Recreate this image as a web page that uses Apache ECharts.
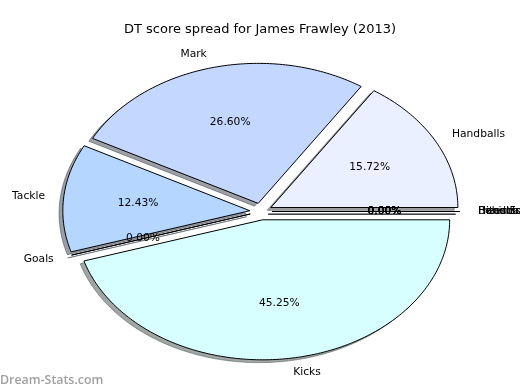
<!DOCTYPE html>
<html>
<head>
<meta charset="utf-8">
<script src="https://cdn.jsdelivr.net/npm/echarts@6/dist/echarts.min.js"></script>
<style>html,body{margin:0;padding:0;background:#fff;}#c{width:520px;height:390px;}</style>
</head>
<body>
<div id="c"></div>
<script>
const titleText = 'DT score spread for James Frawley (2013)';
const categories = ['Handballs', 'Mark', 'Tackle', 'Goals', 'Kicks', 'Behinds', 'Hitouts', 'Frees For', 'Handballs Rec'];
const shares = [15.72, 26.60, 12.43, 0, 45.25, 0, 0, 0, 0];
const colors = ['#eaf0ff', '#c4d8ff', '#b4d6ff', '#c8e0ff', '#d8ffff', '#e0e8ff', '#d0e0ff', '#c0d8ff', '#e8f0ff'];

const FONT = '"DejaVu Sans", sans-serif';
const CX = 261, CY = 211.5, RX = 187, RY = 140;
const EXPLODE = 0.06, SH_DX = -0.02, SH_DY = -0.02;

const total = shares.reduce((a, b) => a + b, 0);
const starts = [];
let acc = 0;
shares.forEach(v => { starts.push(acc); acc += v; });

function pt(cx, cy, deg, f) {
  const a = deg * Math.PI / 180;
  return [cx + f * RX * Math.cos(a), cy - f * RY * Math.sin(a)];
}
function shadeColor(hex) {
  const r = parseInt(hex.slice(1, 3), 16), g = parseInt(hex.slice(3, 5), 16), b = parseInt(hex.slice(5, 7), 16);
  return 'rgba(' + Math.round(r * 0.3) + ',' + Math.round(g * 0.3) + ',' + Math.round(b * 0.3) + ',0.5)';
}
function wedgePoints(cx, cy, a0, a1) {
  const pts = [[cx, cy]];
  const n = Math.max(1, Math.ceil((a1 - a0) / 1));
  for (let k = 0; k <= n; k++) pts.push(pt(cx, cy, a0 + (a1 - a0) * k / n, 1));
  return pts;
}

const chart = echarts.init(document.getElementById('c'), null, { renderer: 'canvas' });
chart.setOption({
  animation: false,
  backgroundColor: '#fff',
  title: {
    text: titleText, left: 'center', top: 18,
    textStyle: { fontFamily: FONT, fontSize: 13, fontWeight: 'normal', color: '#000' }
  },
  graphic: [{
    type: 'text', left: 0, top: 374,
    style: { text: 'Dream-Stats.com', font: '600 12.4px "Open Sans", sans-serif', fill: '#a0a0a0' }
  }],
  series: [{
    type: 'custom',
    coordinateSystem: 'none',
    silent: true,
    data: shares.map((v, i) => [i, v]),
    renderItem: function (params, api) {
      const i = params.dataIndex;
      const v = shares[i];
      const a0 = starts[i] / total * 360;
      const a1 = (starts[i] + v) / total * 360;
      const mid = (a0 + a1) / 2;
      const off = pt(0, 0, mid, EXPLODE);
      const cx = CX + off[0], cy = CY + off[1];
      const shx = cx + SH_DX * RX, shy = cy - SH_DY * RY;
      const lab = pt(cx, cy, mid, 1.1);
      const pct = pt(cx, cy, mid, 0.6);
      const cosm = Math.cos(mid * Math.PI / 180);
      return {
        type: 'group',
        children: [
          { type: 'polygon', z2: 1, shape: { points: wedgePoints(shx, shy, a0, a1) },
            style: { fill: shadeColor(colors[i]), stroke: shadeColor(colors[i]), lineWidth: 1 } },
          { type: 'polygon', z2: 10, shape: { points: wedgePoints(cx, cy, a0, a1) },
            style: { fill: colors[i], stroke: '#000', lineWidth: 1, lineJoin: 'miter' } },
          { type: 'text', z2: 20,
            style: { text: categories[i], x: lab[0], y: lab[1], textAlign: cosm > 0 ? 'left' : 'right',
              textVerticalAlign: 'middle', font: '10.7px ' + FONT, fill: '#000' } },
          { type: 'text', z2: 20,
            style: { text: v.toFixed(2) + '%', x: pct[0], y: pct[1], textAlign: 'center',
              textVerticalAlign: 'middle', font: '10.7px ' + FONT, fill: '#000' } }
        ]
      };
    }
  }]
});
</script>
</body>
</html>
